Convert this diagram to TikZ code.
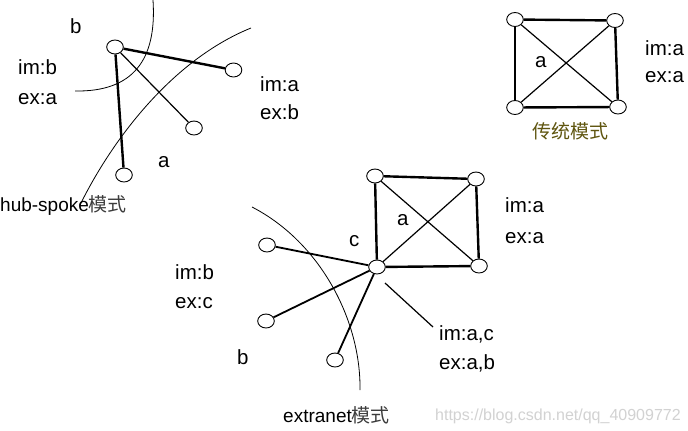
\documentclass[tikz,border=0pt]{standalone}
\usepackage{fontspec}
\setmainfont{Liberation Sans}
\newfontfamily\cjk{Noto Sans CJK SC}
\usetikzlibrary{shapes.geometric}
\definecolor{cjkgray}{RGB}{60,60,60}
\definecolor{olivetxt}{RGB}{95,85,15}
\definecolor{wmark}{RGB}{210,210,210}
\begin{document}
\begin{tikzpicture}[x=1pt,y=-1pt,
  pc/.style={draw,ellipse,minimum width=16.6pt,minimum height=14pt,inner sep=0pt,line width=0.9pt,fill=white},
  lbl/.style={anchor=base west,inner sep=0pt,font=\fontsize{20.5}{20.5}\selectfont},
  captxt/.style={anchor=base west,inner sep=0pt,font=\fontsize{19}{19}\selectfont},
  thk/.style={line width=2.4pt},
  med/.style={line width=1.8pt},
  thn/.style={line width=1.2pt},
  arcline/.style={line width=0.8pt}]
\useasboundingbox (0,0) rectangle (688,431);
\fill[white] (0,0) rectangle (688,431);

% ---------- hub-spoke ----------
\draw[arcline] (153,0) .. controls (157,60) and (133,92) .. (75,91);
\draw[arcline] (251,28) .. controls (172,60) and (112,140) .. (80,205);
\node[pc] (h) at (115,47) {};
\node[pc] (h1) at (233.5,70) {};
\node[pc] (h2) at (194,128) {};
\node[pc] (h3) at (124,175) {};
\draw[thk] (h) -- (h1);
\draw[thn] (h) -- (h2);
\draw[thk] (h) -- (h3);
\node[lbl] (tb) at (70,33) {b};
\node[lbl] (t1) at (18,74) {im:b};
\node[lbl] (t2) at (18,104) {ex:a};
\node[lbl] (t3) at (260,91) {im:a};
\node[lbl] (t4) at (260,119) {ex:b};
\node[lbl] (ta) at (158,167) {a};
\node[captxt] (thub) at (0,211) {hub-spoke{\cjk\color{cjkgray}模式}};

% ---------- traditional ----------
\node[pc] (p1) at (515,19.5) {};
\node[pc] (p2) at (615,20.5) {};
\node[pc] (p3) at (515,107.5) {};
\node[pc] (p4) at (618,107) {};
\draw[thk] (p1) -- (p2);
\draw[thk] (p1) -- (p3);
\draw[thk] (p2) -- (p4);
\draw[thk] (p3) -- (p4);
\draw[thn] (p1) -- (p4);
\draw[thn] (p2) -- (p3);
\node[lbl] (pa) at (535,67) {a};
\node[lbl] (p5) at (645,55) {im:a};
\node[lbl] (p6) at (645,82) {ex:a};
\node[captxt] (ptr) at (532,138) {\cjk\color{olivetxt}传统模式};

% ---------- extranet ----------
\draw[arcline] (252,207) .. controls (320,242) and (361,320) .. (360,390);
\coordinate (s1) at (385,283);
\coordinate (s2) at (433,327);
\draw[thn] (s1) -- (s2);
\node[pc] (e1) at (375,176) {};
\node[pc] (e2) at (476,179) {};
\node[pc] (e4) at (479,266) {};
\node[pc] (c) at (377,267) {};
\node[pc] (l1) at (267,245) {};
\node[pc] (l2) at (266,321) {};
\node[pc] (l3) at (335,360) {};
\draw[thk] (e1) -- (e2);
\draw[thk] (e1) -- (c);
\draw[thk] (e2) -- (e4);
\draw[thk] (c) -- (e4);
\draw[thn] (e1) -- (e4);
\draw[thn] (e2) -- (c);
\draw[med] (c) -- (l1);
\draw[med] (c) -- (l2);
\draw[med] (c) -- (l3);
\node[lbl] (ec) at (349,246) {c};
\node[lbl] (ea) at (397,225) {a};
\node[lbl] (e5) at (505,212) {im:a};
\node[lbl] (e6) at (505,243) {ex:a};
\node[lbl] (e7) at (175,279) {im:b};
\node[lbl] (e8) at (175,308) {ex:c};
\node[lbl] (e9) at (439,340) {im:a,c};
\node[lbl] (e10) at (439,369) {ex:a,b};
\node[lbl] (eb) at (237,364) {b};
\node[captxt] (ext) at (283,422) {extranet{\cjk\color{cjkgray}模式}};
\node[anchor=base west,inner sep=0pt,text=wmark,font=\fontsize{16}{16}\selectfont] (wm) at (435,420) {https://blog.csdn.net/qq\_40909772};
\end{tikzpicture}
\end{document}
